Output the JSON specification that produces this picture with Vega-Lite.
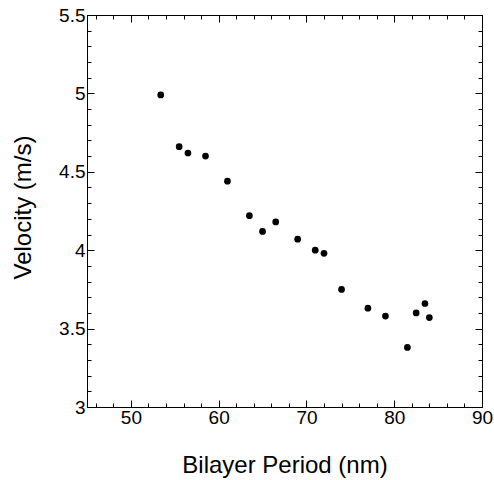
{
  "$schema": "https://vega.github.io/schema/vega-lite/v6.json",
  "autosize": {"type": "none"},
  "width": 395,
  "height": 392,
  "padding": {"left": 87, "top": 15, "right": 12, "bottom": 73},
  "background": "white",
  "config": {
    "view": {"stroke": "black", "strokeWidth": 1},
    "font": "Liberation Sans",
    "axis": {
      "domainColor": "black",
      "tickColor": "black",
      "labelColor": "black",
      "titleColor": "black",
      "labelFont": "Liberation Sans",
      "titleFont": "Liberation Sans",
      "labelFontSize": 19,
      "titleFontSize": 24,
      "titleFontWeight": "normal",
      "grid": false,
      "ticks": true
    }
  },
  "data": {
    "values": [
      {"period": 53.4, "velocity": 4.99},
      {"period": 55.5, "velocity": 4.66},
      {"period": 56.5, "velocity": 4.62},
      {"period": 58.5, "velocity": 4.60},
      {"period": 61.0, "velocity": 4.44},
      {"period": 63.5, "velocity": 4.22},
      {"period": 65.0, "velocity": 4.12},
      {"period": 66.5, "velocity": 4.18},
      {"period": 69.0, "velocity": 4.07},
      {"period": 71.0, "velocity": 4.00},
      {"period": 72.0, "velocity": 3.98},
      {"period": 74.0, "velocity": 3.75},
      {"period": 77.0, "velocity": 3.63},
      {"period": 79.0, "velocity": 3.58},
      {"period": 81.5, "velocity": 3.38},
      {"period": 82.5, "velocity": 3.60},
      {"period": 83.5, "velocity": 3.66},
      {"period": 84.0, "velocity": 3.57}
    ]
  },
  "resolve": {"axis": {"x": "independent", "y": "independent"}},
  "layer": [
    {
      "mark": {"type": "point", "filled": true, "color": "black", "opacity": 1, "size": 45},
      "encoding": {
        "x": {
          "field": "period", "type": "quantitative",
          "scale": {"domain": [45, 90], "nice": false, "zero": false},
          "axis": {
            "orient": "bottom",
            "title": "Bilayer Period (nm)",
            "values": [50, 60, 70, 80, 90],
            "tickSize": -7,
            "labelPadding": 8,
            "labelBaseline": "top",
            "labelFlush": false,
            "labelOverlap": false,
            "titleY": 65,
            "titleBaseline": "alphabetic"
          }
        },
        "y": {
          "field": "velocity", "type": "quantitative",
          "scale": {"domain": [3, 5.5], "nice": false, "zero": false},
          "axis": {
            "orient": "left",
            "title": "Velocity (m/s)",
            "values": [3, 3.5, 4, 4.5, 5, 5.5],
            "format": "~g",
            "tickSize": -7,
            "labelPadding": 9,
            "labelFlush": false,
            "labelOverlap": false,
            "titleX": -64,
            "titleY": 192,
            "titleAngle": -90,
            "titleAlign": "center",
            "titleBaseline": "middle"
          }
        }
      }
    },
    {
      "mark": {"type": "point", "opacity": 0},
      "encoding": {
        "x": {
          "field": "period", "type": "quantitative",
          "axis": {"orient": "top", "title": null, "labels": false, "values": [50, 60, 70, 80, 90], "tickSize": -7}
        },
        "y": {
          "field": "velocity", "type": "quantitative",
          "axis": {"orient": "right", "title": null, "labels": false, "values": [3, 3.5, 4, 4.5, 5, 5.5], "tickSize": -7}
        }
      }
    },
    {
      "mark": {"type": "point", "opacity": 0},
      "encoding": {
        "x": {
          "field": "period", "type": "quantitative",
          "axis": {"orient": "bottom", "title": null, "labels": false, "values": [46,48,52,54,56,58,62,64,66,68,72,74,76,78,82,84,86,88], "tickSize": -4}
        },
        "y": {
          "field": "velocity", "type": "quantitative",
          "axis": {"orient": "left", "title": null, "labels": false, "values": [3.1,3.2,3.3,3.4,3.6,3.7,3.8,3.9,4.1,4.2,4.3,4.4,4.6,4.7,4.8,4.9,5.1,5.2,5.3,5.4], "tickSize": -4}
        }
      }
    },
    {
      "mark": {"type": "point", "opacity": 0},
      "encoding": {
        "x": {
          "field": "period", "type": "quantitative",
          "axis": {"orient": "top", "title": null, "labels": false, "values": [46,48,52,54,56,58,62,64,66,68,72,74,76,78,82,84,86,88], "tickSize": -4}
        },
        "y": {
          "field": "velocity", "type": "quantitative",
          "axis": {"orient": "right", "title": null, "labels": false, "values": [3.1,3.2,3.3,3.4,3.6,3.7,3.8,3.9,4.1,4.2,4.3,4.4,4.6,4.7,4.8,4.9,5.1,5.2,5.3,5.4], "tickSize": -4}
        }
      }
    }
  ]
}
